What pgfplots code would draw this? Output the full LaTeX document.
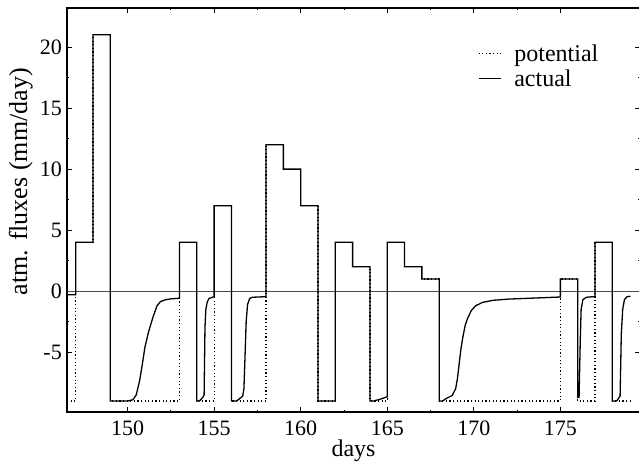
\documentclass[border=0pt]{standalone}
\usepackage{fontspec}
\setmainfont{Liberation Serif}
\usepackage{pgfplots}
\pgfplotsset{compat=1.18}
\newcommand{\tickf}{\fontsize{22bp}{26bp}\selectfont}
\newcommand{\bigf}{\fontsize{24bp}{28bp}\selectfont}
\newcommand{\ylf}{\fontsize{26bp}{30bp}\selectfont}
\begin{document}
\begin{tikzpicture}
\begin{axis}[
  scale only axis=true,
  width=573bp, height=404bp,
  xmin=146.5, xmax=179.6,
  ymin=-9.9, ymax=23.2,
  xtick={150,155,...,175},
  ytick={-5,0,5,10,15,20},
  minor x tick num=1, minor y tick num=1,
  tick align=inside,
  major tick length=5bp, minor tick length=2.5bp,
  every tick/.style={black, line width=0.8bp},
  axis line style={line width=1.4bp},
  /pgf/number format/assume math mode=true,
  tick label style={font=\tickf},
  xticklabel style={inner sep=0pt, anchor=north, yshift=-9bp},
  yticklabel style={inner sep=0pt, anchor=east, xshift=-5bp},
  xlabel={days},
  ylabel={atm. fluxes (mm/day)},
  xlabel style={font=\bigf, at={(rel axis cs:0.5,0)}, anchor=north, inner sep=0pt, yshift=-28bp},
  ylabel style={font=\ylf, at={(rel axis cs:0,0.57)}, anchor=south, inner sep=0pt, yshift=34bp},
  legend style={draw=none, fill=none, font=\bigf, at={(rel axis cs:0.717,0.915)}, anchor=north west, row sep=3bp, column sep=11bp, inner sep=0pt},
  legend cell align=left,
  legend image code/.code={\draw[#1] (0bp,0bp) -- (22bp,0bp);},
  clip=true,
]
\addplot[black!70, line width=1bp, forget plot] coordinates {(146.5,0) (179.6,0)};
\addplot[black, line width=1.2bp, dash pattern=on 1.2bp off 2.4bp, const plot mark left] coordinates {
(146.5,-9) (147,4) (148,21) (149,-9) (153,4) (154,-9) (155,7) (156,-9) (158,12) (159,10) (160,7) (161,-9) (162,4) (163,2) (164,-9) (165,4) (166,2) (167,1) (168,-9) (175,1) (176,-9) (177,4) (178,-9) (179.05,-9)
};
\addlegendentry{potential}
\addplot[black, line width=1.3bp, sharp plot] coordinates {
(146.5,-0.3) (147,-0.3) (147,4) (148,4) (148,21) (149,21) (149,-9) (150,-9) (150.3,-8.9) (150.5,-8.5) (150.7,-7.3) (150.85,-6) (151,-4.6) (151.2,-3.4) (151.45,-2.2) (151.7,-1.2) (151.9,-0.85) (152.2,-0.7) (152.5,-0.63) (153,-0.58) (153,4) (154,4) (154,-9) (154.15,-9) (154.35,-8.7) (154.42,-8.5) (154.47,-3) (154.52,-1.5) (154.6,-0.9) (154.7,-0.6) (155,-0.45) (155,7) (156,7) (156,-9) (156.3,-9) (156.65,-8.6) (156.72,-8) (156.78,-5.5) (156.85,-2.5) (156.93,-1.1) (157.05,-0.6) (157.2,-0.5) (158,-0.45) (158,12) (159,12) (159,10) (160,10) (160,7) (161,7) (161,-9) (162,-9) (162,4) (163,4) (163,2) (164,2) (164,-9) (164.2,-9) (164.6,-8.85) (165,-8.65) (165,4) (166,4) (166,2) (167,2) (167,1) (168,1) (168,-9) (168.2,-9) (168.4,-8.8) (168.75,-8.55) (168.95,-8.0) (169.05,-7.2) (169.15,-6.0) (169.25,-4.8) (169.35,-3.9) (169.5,-2.8) (169.65,-2.2) (169.85,-1.6) (170.1,-1.2) (170.5,-0.92) (171.1,-0.75) (172,-0.65) (173.4,-0.57) (175,-0.48) (175,1) (176,1) (176,-8.7) (176.08,-8.7) (176.15,-4) (176.2,-1.5) (176.3,-0.7) (176.5,-0.5) (177,-0.44) (177,4) (178,4) (178,-9) (178.25,-9) (178.45,-8.6) (178.52,-3.5) (178.6,-1.5) (178.7,-0.7) (178.85,-0.45) (179.05,-0.42)
};
\addlegendentry{actual}
\end{axis}
\pgfresetboundingbox
\useasboundingbox (-67bp,-52bp) rectangle (572bp,412bp);
\end{tikzpicture}
\end{document}
